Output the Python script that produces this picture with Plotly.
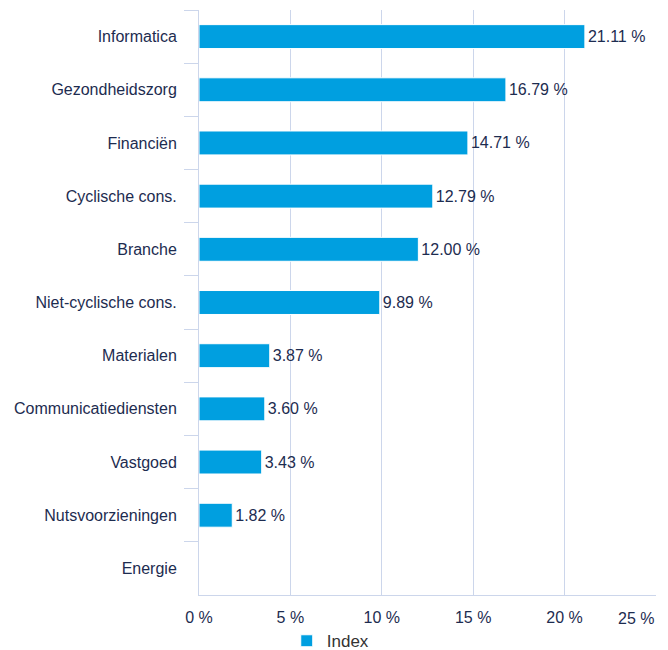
import plotly.graph_objects as go

categories = ["Informatica", "Gezondheidszorg", "Financiën", "Cyclische cons.", "Branche",
              "Niet-cyclische cons.", "Materialen", "Communicatiediensten", "Vastgoed",
              "Nutsvoorzieningen", "Energie"]
values = [21.11, 16.79, 14.71, 12.79, 12.00, 9.89, 3.87, 3.60, 3.43, 1.82, 0.0]
labels = ["21.11 %", "16.79 %", "14.71 %", "12.79 %", "12.00 %", "9.89 %", "3.87 %",
          "3.60 %", "3.43 %", "1.82 %", ""]
series_name = "Index"
x_ticks = [0, 5, 10, 15, 20, 25]
x_ticktext = ["0 %", "5 %", "10 %", "15 %", "20 %", ""]
last_tick_label = "25 %"

NAVY = "#1d2c50"
GRID = "#ccd6eb"
FONT = "Liberation Sans, Arial, Helvetica, sans-serif"

fig = go.Figure()
fig.add_trace(go.Bar(
    y=categories, x=values, orientation="h", name=series_name,
    marker=dict(color="#009fe0", line=dict(color="#ffffff", width=1)),
    text=labels, textposition="outside", constraintext="none", cliponaxis=False,
    textfont=dict(color=NAVY, size=16, family=FONT),
    hoverinfo="skip",
))

fig.update_layout(
    width=668, height=650,
    margin=dict(l=199, r=11.5, t=10, b=55, autoexpand=False),
    plot_bgcolor="#ffffff", paper_bgcolor="#ffffff",
    font=dict(family=FONT, color=NAVY, size=16),
    bargap=0.55,
    showlegend=True,
    legend=dict(orientation="h", x=0.192, xanchor="left", y=-0.079, yanchor="middle",
                font=dict(size=17, color="#333333", family=FONT),
                bgcolor="rgba(0,0,0,0)"),
    xaxis=dict(range=[0, 25], tickvals=x_ticks, ticktext=x_ticktext,
               showgrid=True, gridcolor=GRID, gridwidth=1, zeroline=False,
               showline=True, linecolor=GRID, linewidth=1, ticks="",
               tickfont=dict(size=16, color=NAVY), ticklabelstandoff=8,
               fixedrange=True),
    yaxis=dict(autorange="reversed", showline=True, linecolor=GRID, linewidth=1,
               ticks="outside", tickson="boundaries", ticklen=14, tickcolor=GRID,
               tickwidth=1, showgrid=False, tickfont=dict(size=16, color=NAVY),
               ticklabelstandoff=18, fixedrange=True),
    annotations=[dict(x=x_ticks[-1], xref="x", xanchor="right", y=-0.0395, yref="paper",
                      yanchor="middle", text=last_tick_label, showarrow=False,
                      font=dict(size=16, color=NAVY, family=FONT))],
)

fig.write_html("out.html")
